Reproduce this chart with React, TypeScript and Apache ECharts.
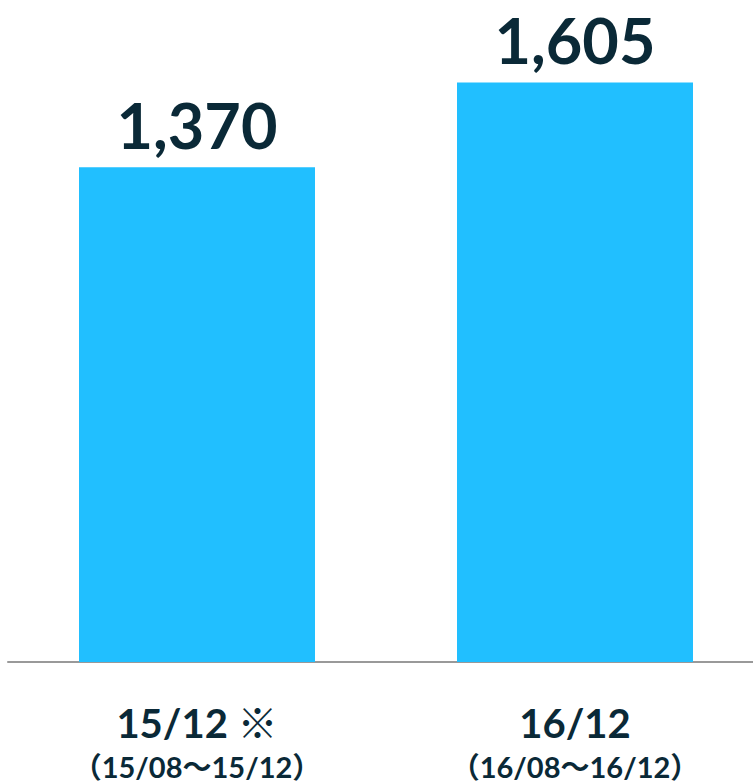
import React, { useEffect, useRef } from "react";
import * as echarts from "echarts";

const categories = ["15/12 ※", "16/12"];
const subLabels = ["（15/08〜15/12）", "（16/08〜16/12）"];
const values = [1370, 1605];

const TEXT = "#0a2937";
const FONT = "Lato, 'Noto Sans CJK JP', sans-serif";

export default function App() {
  const ref = useRef<HTMLDivElement>(null);
  useEffect(() => {
    if (!ref.current) return;
    const chart = echarts.init(ref.current, null, { renderer: "svg" });
    chart.setOption({
      animation: false,
      grid: { left: 8, width: 756, top: 12, height: 650 },
      xAxis: {
        type: "category",
        data: categories.map((c, i) => c + "\n" + subLabels[i]),
        axisLine: { lineStyle: { color: "#999999", width: 2 } },
        axisTick: { show: false },
        axisLabel: {
          margin: 33,
          interval: 0,
          formatter: (v: string) => {
            const [a, b] = v.split("\n");
            return "{a|" + a + "}\n{b|" + b + "}";
          },
          rich: {
            a: { fontSize: 40, fontWeight: "bold", color: TEXT, fontFamily: FONT, lineHeight: 56 },
            b: { fontSize: 29, fontWeight: "bold", color: TEXT, fontFamily: FONT, lineHeight: 30 },
          },
        },
      },
      yAxis: { type: "value", min: 0, max: 1800, show: false, splitLine: { show: false } },
      series: [
        {
          type: "bar",
          data: values,
          barWidth: 236,
          itemStyle: { color: "#21BFFF" },
          label: {
            show: true,
            position: "top",
            distance: 13,
            fontSize: 63,
            lineHeight: 60,
            fontWeight: "bold",
            color: TEXT,
            fontFamily: FONT,
            formatter: (p: any) => p.value.toLocaleString("en-US"),
          },
        },
      ],
    });
    return () => chart.dispose();
  }, []);
  return (
    <div style={{ width: 753, height: 783, position: "absolute", left: 0, top: 0, overflow: "hidden" }}>
      <div ref={ref} style={{ width: 764, height: 783 }} />
    </div>
  );
}
